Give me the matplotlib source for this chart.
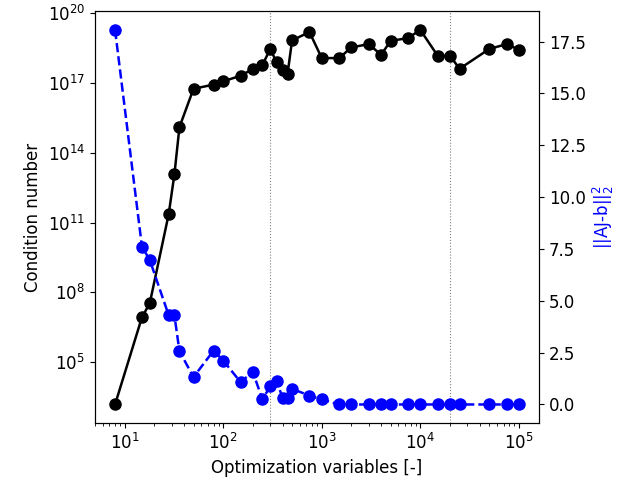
import matplotlib
matplotlib.use('Agg')
import matplotlib.pyplot as plt
import numpy as np
from matplotlib.ticker import NullLocator, FixedLocator

plt.rcParams['font.size'] = 12

# optimization variables (x axis)
n_vars = [8, 15, 18, 28, 32, 36, 50, 80, 100, 150, 200, 250, 300, 350, 400, 450,
          500, 750, 1000, 1500, 2000, 3000, 4000, 5000, 7500, 10000, 15000,
          20000, 25000, 50000, 75000, 100000]

# log10 of the condition number
log_cond = [3.18, 6.93, 7.53, 11.36, 13.07, 15.1, 16.75, 16.93, 17.07, 17.31,
            17.6, 17.77, 18.46, 17.88, 17.57, 17.4, 18.83, 19.19, 18.07, 18.07,
            18.53, 18.67, 18.21, 18.81, 18.93, 19.28, 18.17, 18.17, 17.61,
            18.46, 18.67, 18.43]

# residual ||AJ-b||_2^2
residual = [18.06, 7.6, 6.97, 4.30, 4.30, 2.57, 1.32, 2.60, 2.12, 1.08, 1.57,
            0.24, 0.88, 1.12, 0.32, 0.32, 0.75, 0.43, 0.24, 0.0, 0.0, 0.0, 0.0,
            0.0, 0.0, 0.0, 0.0, 0.0, 0.0, 0.0, 0.0, 0.0]

marks = [300, 20000]

cond = [10 ** v for v in log_cond]

fig, ax = plt.subplots(figsize=(6.41, 4.87), dpi=100)
fig.subplots_adjust(left=0.148, right=0.841, bottom=0.131, top=0.977)

for m in marks:
    ax.axvline(m, color='gray', ls=':', lw=0.8)

ax.plot(n_vars, cond, 'k-o', lw=1.8, ms=8)
ax.set_xscale('log')
ax.set_yscale('log')
# labels only every third decade, like the original
ax.yaxis.set_major_locator(FixedLocator(10.0 ** np.arange(5, 21, 3)))
ax.yaxis.set_minor_locator(NullLocator())
ax.set_xlabel('Optimization variables [-]')
ax.set_ylabel('Condition number')

ax2 = ax.twinx()
ax2.plot(n_vars, residual, 'b--o', lw=1.8, ms=8)
ax2.set_ylabel('||AJ-b||$_2^2$', color='b')

plt.savefig('out.png', dpi=100)
